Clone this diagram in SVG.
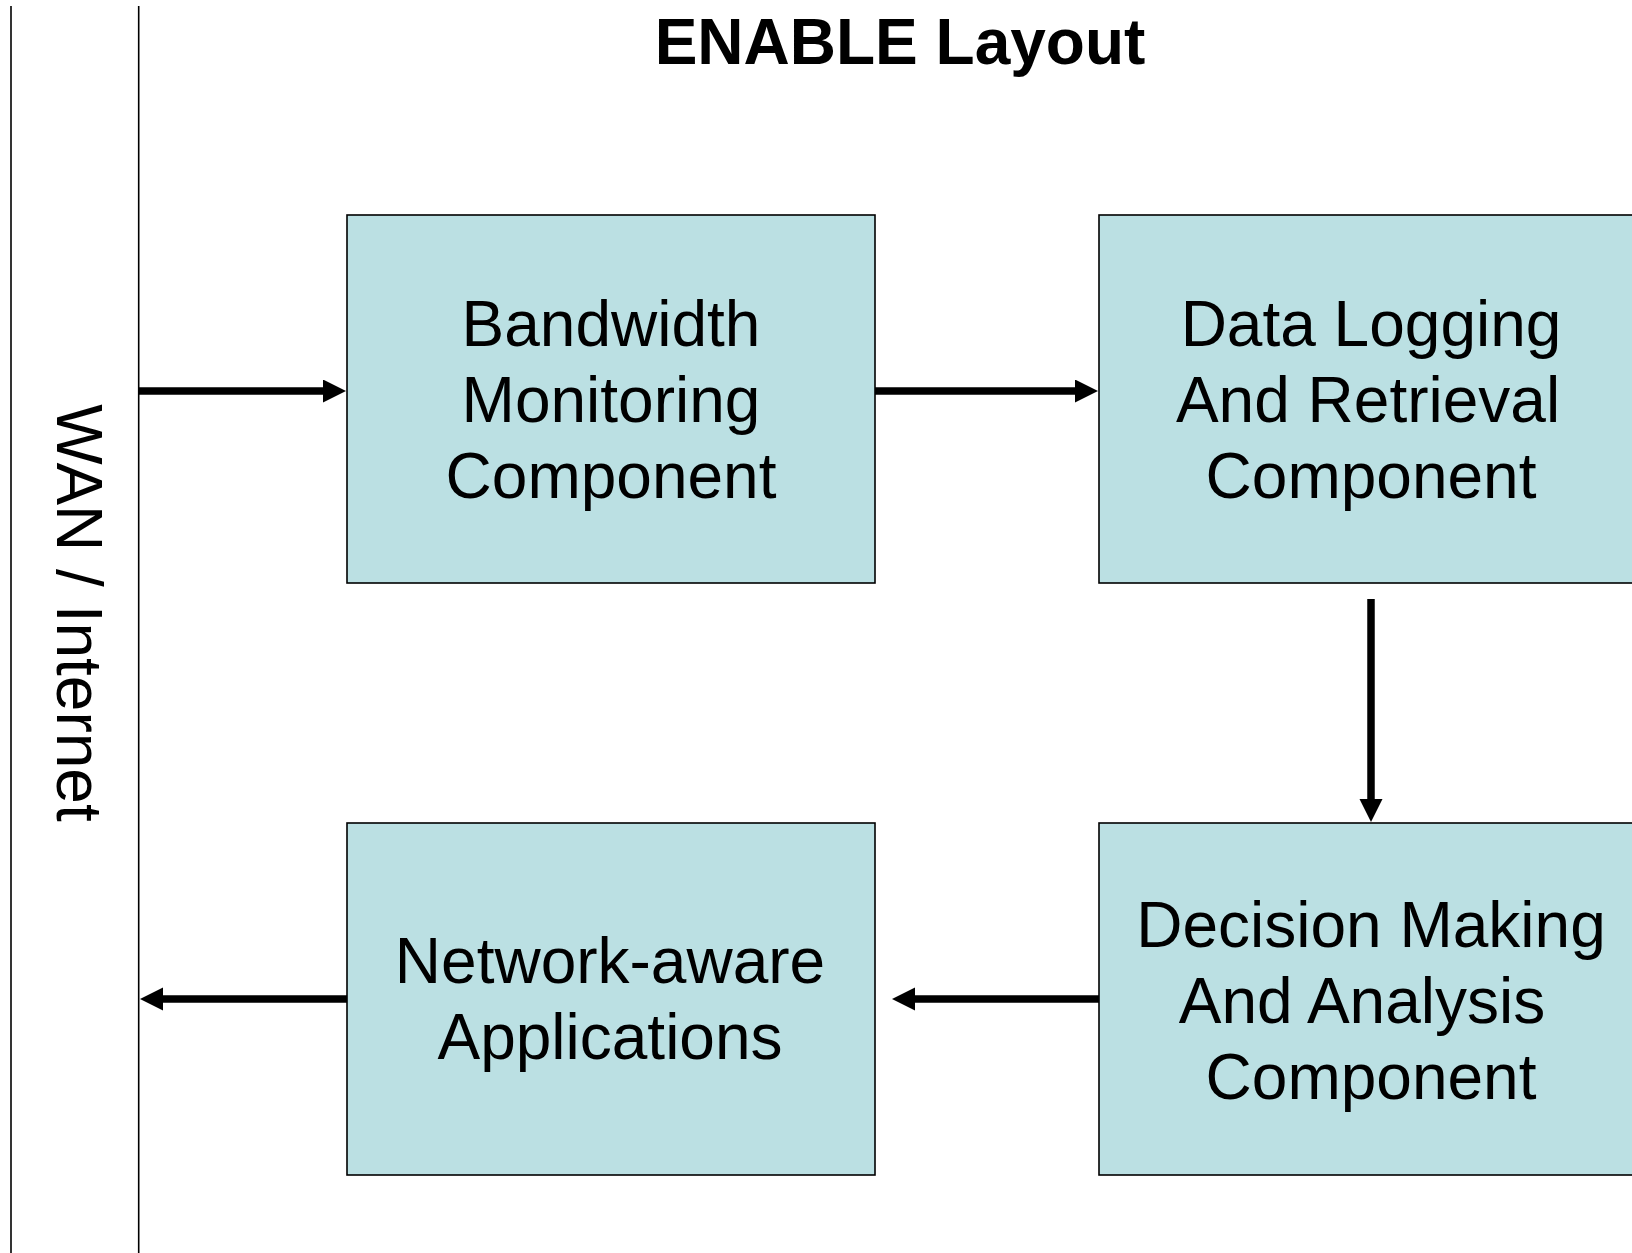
<svg xmlns="http://www.w3.org/2000/svg" width="1632" height="1253" viewBox="0 0 1632 1253">
  <style>
    .box { fill: #BBE0E3; stroke: #000; stroke-width: 1.6; }
    .lbl { font-family: "Liberation Sans", Arial, sans-serif; font-size: 64px; fill: #000; text-anchor: middle; }
    .title { font-family: "Liberation Sans", Arial, sans-serif; font-size: 64px; font-weight: bold; fill: #000; text-anchor: middle; }
    .rail { stroke: #000; stroke-width: 1.6; fill: none; }
    .flow { stroke: #000; stroke-width: 7.5; fill: none; marker-end: url(#head); }
  </style>
  <defs>
    <marker id="head" markerUnits="userSpaceOnUse" markerWidth="24" markerHeight="24" refX="0" refY="11.5" orient="auto">
      <path d="M0,0 L23,11.5 L0,23 Z" fill="#000"/>
    </marker>
  </defs>

  <rect width="1632" height="1253" fill="#fff"/>

  <text class="title" x="900" y="64">ENABLE Layout</text>

  <!-- WAN / Internet band -->
  <g id="wan">
    <line class="rail" x1="11" y1="6" x2="11" y2="1253"/>
    <line class="rail" x1="138.7" y1="6" x2="138.7" y2="1253"/>
    <text class="lbl" transform="translate(57,613) rotate(90)" x="0" y="0">WAN / Internet</text>
  </g>

  <g id="bandwidth">
    <rect class="box" x="347" y="215" width="528" height="368"/>
    <text class="lbl" x="611" y="346">Bandwidth</text>
    <text class="lbl" x="611" y="422">Monitoring</text>
    <text class="lbl" x="611" y="498">Component</text>
  </g>

  <g id="logging">
    <rect class="box" x="1099" y="215" width="560" height="368"/>
    <text class="lbl" x="1371" y="346">Data Logging</text>
    <text class="lbl" x="1368" y="422">And Retrieval</text>
    <text class="lbl" x="1371" y="498">Component</text>
  </g>

  <g id="applications">
    <rect class="box" x="347" y="823" width="528" height="352"/>
    <text class="lbl" x="610" y="983">Network-aware</text>
    <text class="lbl" x="610" y="1059">Applications</text>
  </g>

  <g id="decision">
    <rect class="box" x="1099" y="823" width="560" height="352"/>
    <text class="lbl" x="1371" y="947">Decision Making</text>
    <text class="lbl" x="1362" y="1023">And Analysis</text>
    <text class="lbl" x="1371" y="1099">Component</text>
  </g>

  <g id="connectors">
    <line class="flow" x1="139" y1="391" x2="323" y2="391"/>
    <line class="flow" x1="875" y1="391" x2="1075" y2="391"/>
    <line class="flow" x1="1371" y1="599" x2="1371" y2="799"/>
    <line class="flow" x1="1099" y1="999" x2="915" y2="999"/>
    <line class="flow" x1="347" y1="999" x2="163" y2="999"/>
  </g>
</svg>
